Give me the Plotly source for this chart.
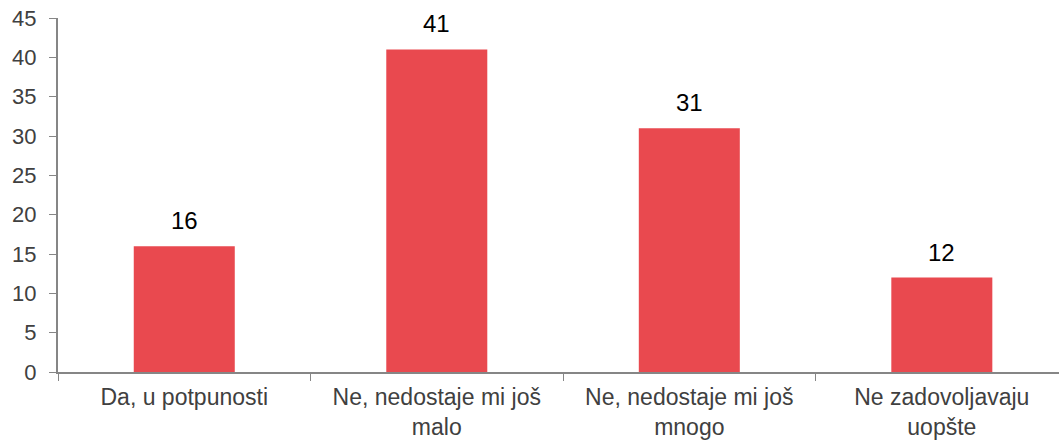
import plotly.graph_objects as go

categories = ["Da, u potpunosti", "Ne, nedostaje mi još<br>malo", "Ne, nedostaje mi još<br>mnogo", "Ne zadovoljavaju<br>uopšte"]
values = [16, 41, 31, 12]
y_ticks = [0, 5, 10, 15, 20, 25, 30, 35, 40, 45]

fig = go.Figure()
fig.add_trace(go.Bar(
    x=categories,
    y=values,
    width=0.4,
    marker=dict(color="#E9494F", line=dict(width=0)),
    cliponaxis=False,
))

# value labels above bars
for c, v in zip(categories, values):
    fig.add_annotation(
        x=c, y=v, text=str(v), showarrow=False,
        yanchor="bottom", yshift=10,
        font=dict(family="Liberation Sans, Arial", size=24, color="#000000"),
    )

fig.update_layout(
    width=1059,
    height=440,
    margin=dict(l=58, r=0, t=18, b=68),
    plot_bgcolor="white",
    paper_bgcolor="white",
    showlegend=False,
    font=dict(family="Liberation Sans, Arial", size=22, color="#404040"),
    xaxis=dict(
        type="category",
        range=[-0.5, 3.464],
        automargin=False,
        tickson="boundaries",
        ticks="outside",
        ticklen=7,
        tickcolor="#868686",
        showline=True,
        linecolor="#868686",
        linewidth=2,
        showgrid=False,
        ticklabelstandoff=3,
        tickfont=dict(size=23, color="#404040"),
    ),
    yaxis=dict(
        range=[0, 45],
        tickvals=y_ticks,
        automargin=False,
        ticks="outside",
        ticklen=7,
        tickcolor="#868686",
        showline=True,
        linecolor="#868686",
        linewidth=2,
        showgrid=False,
        zeroline=False,
        ticklabelstandoff=8,
        tickfont=dict(size=22, color="#404040"),
    ),
)

# drop the default 8px page margin so the figure fills the window
fig.write_html(
    "out.html",
    config={"displayModeBar": False},
    post_script="document.body.style.margin='0';document.body.style.overflow='hidden';",
)
